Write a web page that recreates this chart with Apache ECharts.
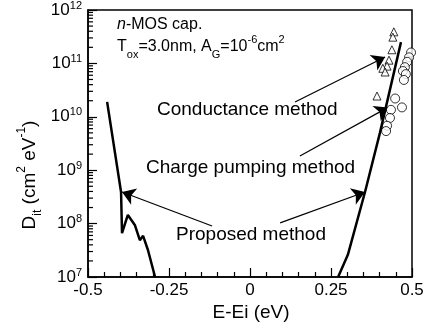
<!DOCTYPE html>
<html>
<head>
<meta charset="utf-8">
<script src="https://cdn.jsdelivr.net/npm/echarts@6/dist/echarts.min.js"></script>
<style>
  html, body { margin: 0; padding: 0; background: #fff; }
  #chart { width: 427px; height: 328px; }
</style>
</head>
<body>
<div id="chart"></div>
<script>
// proposed method, left branch
const leftX = [-0.441, -0.398, -0.395, -0.377, -0.355, -0.340, -0.330, -0.315, -0.293];
const leftDit = [1.9e10, 3.9e8, 6.6e7, 1.45e8, 9.3e7, 4.9e7, 5.9e7, 3.2e7, 1.0e7];

// proposed method, right branch
const rightX = [0.272, 0.302, 0.355, 0.401, 0.466];
const rightDit = [1.0e7, 2.6e7, 3.9e8, 5.0e9, 2.5e11];

// conductance method (triangles)
const condX = [0.444, 0.441, 0.438, 0.429, 0.423, 0.410, 0.417, 0.392];
const condDit = [3.9e11, 3.1e11, 1.8e11, 1.15e11, 8.9e10, 8.1e10, 6.9e10, 2.45e10];

// charge pumping method (circles)
const cpX = [0.497, 0.491, 0.485, 0.478, 0.472, 0.481, 0.475, 0.448, 0.469, 0.435, 0.432, 0.423, 0.420];
const cpDit = [1.6e11, 1.3e11, 1.07e11, 8.5e10, 7.2e10, 6.3e10, 4.9e10, 2.2e10, 1.5e10, 1.35e10, 9.5e9, 6.8e9, 5.4e9];

// x tick labels
const xTicks = ['-0.5', '-0.25', '0', '0.25', '0.5'];

// annotation arrows: [from, to] in data units
const arrows = [
  [[0.139, 1.89e10], [0.417, 1.32e11]],
  [[0.154, 1.85e9], [0.426, 1.5e10]],
  [[-0.117, 9.0e7], [-0.395, 3.9e8]],
  [[0.093, 1.03e8], [0.355, 3.9e8]]
];

const zip = (xs, ys) => xs.map((x, i) => [x, ys[i]]);

// log minor ticks 2..9 in each decade
const minorTicks = [];
for (let e = 7; e < 12; e++) {
  for (let k = 2; k <= 9; k++) minorTicks.push([-0.5, k * Math.pow(10, e)]);
}

const FONT = 'Liberation Sans, Arial, Helvetica, sans-serif';
const chart = echarts.init(document.getElementById('chart'));

const option = {
  animation: false,
  textStyle: { fontFamily: FONT, color: '#000' },
  grid: {
    left: 88, right: 15, top: 10, bottom: 51,
    show: true, borderColor: '#000', borderWidth: 1.5
  },
  xAxis: {
    type: 'value',
    min: -0.5, max: 0.5, interval: 0.25,
    axisLine: { onZero: false, lineStyle: { color: '#000', width: 1.5 } },
    axisTick: { inside: true, length: 9, lineStyle: { color: '#000', width: 1.2 } },
    minorTick: { show: true, splitNumber: 5, length: 5, lineStyle: { color: '#000', width: 1.2 } },
    splitLine: { show: false },
    axisLabel: {
      color: '#000', fontSize: 17, fontFamily: FONT, margin: 5,
      formatter: v => xTicks[Math.round((v + 0.5) / 0.25)]
    }
  },
  yAxis: {
    type: 'log',
    logBase: 10,
    min: 1e7, max: 1e12,
    axisLine: { onZero: false, lineStyle: { color: '#000', width: 1.5 } },
    axisTick: { inside: true, length: 9, lineStyle: { color: '#000', width: 1.2 } },
    splitLine: { show: false },
    axisLabel: {
      color: '#000', margin: 6,
      formatter: v => '{b|10}{s|' + Math.round(Math.log10(v)) + '}',
      rich: {
        b: { fontSize: 17, fontFamily: FONT, color: '#000', lineHeight: 20 },
        s: { fontSize: 11, fontFamily: FONT, color: '#000', verticalAlign: 'top', lineHeight: 12 }
      }
    }
  },
  graphic: [
    {
      type: 'text', left: 117, top: 17,
      style: {
        text: '{i|n}-MOS cap.', fontSize: 16, fontFamily: FONT, fill: '#000',
        rich: { i: { fontStyle: 'italic', fontSize: 16, fontFamily: FONT } }
      }
    },
    {
      type: 'text', left: 117, top: 34,
      style: {
        text: 'T{sub|ox}=3.0nm, A{sub|G}=10{sup|-6}cm{sup|2}', fontSize: 16, fontFamily: FONT, fill: '#000',
        rich: {
          sub: { fontSize: 11, fontFamily: FONT, verticalAlign: 'bottom', lineHeight: 26 },
          sup: { fontSize: 11, fontFamily: FONT, verticalAlign: 'top', lineHeight: 12 }
        }
      }
    },
    {
      type: 'text', x: 157, y: 110,
      style: { text: 'Conductance method', fontSize: 19, fontFamily: FONT, fill: '#000', verticalAlign: 'middle' }
    },
    {
      type: 'text', x: 146, y: 168,
      style: { text: 'Charge pumping method', fontSize: 19, fontFamily: FONT, fill: '#000', verticalAlign: 'middle' }
    },
    {
      type: 'text', x: 176, y: 235,
      style: { text: 'Proposed method', fontSize: 19, fontFamily: FONT, fill: '#000', verticalAlign: 'middle' }
    },
    {
      type: 'text', x: 251, y: 313,
      style: { text: 'E-Ei (eV)', fontSize: 19, fontFamily: FONT, fill: '#000', align: 'center', verticalAlign: 'middle' }
    },
    {
      type: 'text', x: 30, y: 175, rotation: Math.PI / 2,
      style: {
        text: 'D{sub|it} (cm{sup|2} eV{sup|-1})', fontSize: 19, fontFamily: FONT, fill: '#000',
        align: 'center', verticalAlign: 'middle',
        rich: {
          sub: { fontSize: 12, fontFamily: FONT, verticalAlign: 'bottom', lineHeight: 28 },
          sup: { fontSize: 12, fontFamily: FONT, verticalAlign: 'top', lineHeight: 12 }
        }
      }
    }
  ],
  series: [
    {
      name: 'minor',
      type: 'custom',
      data: minorTicks,
      silent: true,
      renderItem: (params, api) => {
        const p = api.coord([api.value(0), api.value(1)]);
        return {
          type: 'line',
          shape: { x1: p[0], y1: p[1], x2: p[0] + 5, y2: p[1] },
          style: { stroke: '#000', lineWidth: 1.2 }
        };
      }
    },
    {
      name: 'Proposed L',
      type: 'line',
      data: zip(leftX, leftDit),
      showSymbol: false,
      lineStyle: { color: '#000', width: 2.5 }
    },
    {
      name: 'Proposed R',
      type: 'line',
      data: zip(rightX, rightDit),
      showSymbol: false,
      lineStyle: { color: '#000', width: 2.5 }
    },
    {
      name: 'Conductance',
      type: 'scatter',
      data: zip(condX, condDit),
      symbol: 'triangle',
      symbolSize: 8,
      itemStyle: { color: '#fff', borderColor: '#000', borderWidth: 1 }
    },
    {
      name: 'Charge pumping',
      type: 'scatter',
      data: zip(cpX, cpDit),
      symbol: 'circle',
      symbolSize: 9,
      clip: false,
      itemStyle: { color: '#fff', borderColor: '#000', borderWidth: 1 }
    },
    {
      name: 'arrows',
      type: 'lines',
      coordinateSystem: 'cartesian2d',
      symbol: ['none', 'arrow'],
      symbolSize: 13,
      lineStyle: { color: '#000', width: 1.2, opacity: 1 },
      data: arrows.map(a => ({ coords: a }))
    }
  ]
};

chart.setOption(option);
</script>
</body>
</html>
